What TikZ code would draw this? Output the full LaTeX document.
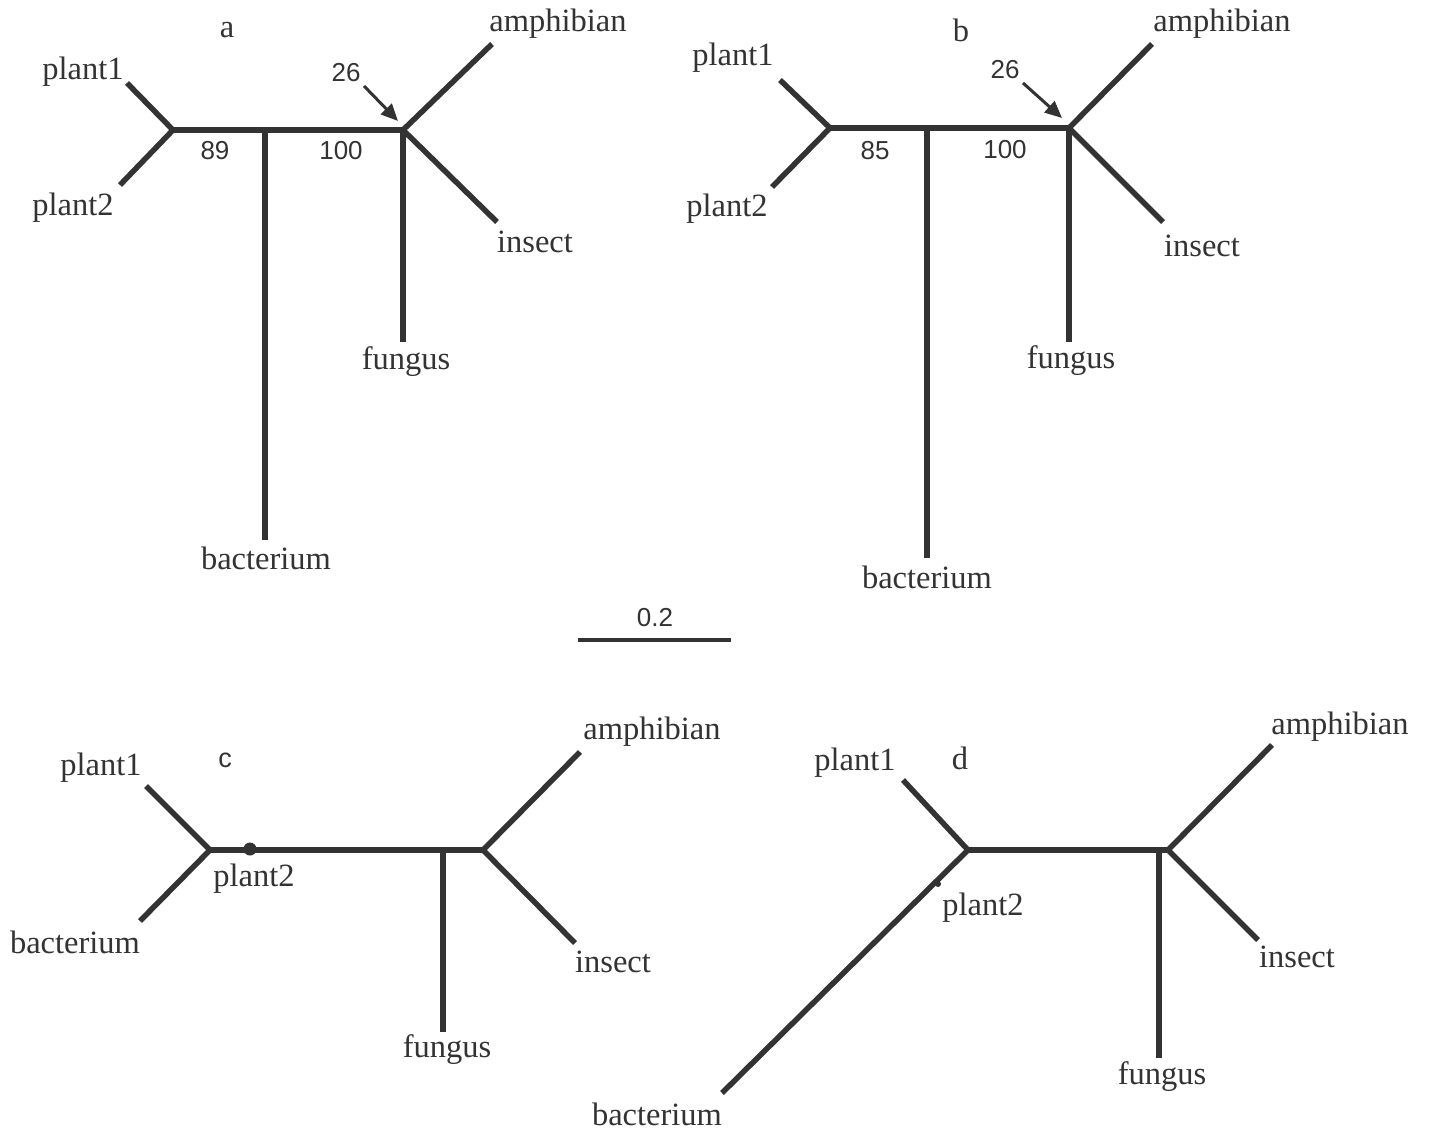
\documentclass[tikz,border=0pt]{standalone}
\usepackage{fontspec}
\setmainfont{Liberation Serif}
\newfontfamily\numfont{Liberation Sans}
\usetikzlibrary{arrows.meta}
\definecolor{ink}{HTML}{333333}
\tikzset{
  branch/.style={line width=5.5pt, draw=ink},
  lab/.style={inner sep=0pt, text=ink, font=\fontsize{32.5}{35}\selectfont},
  num/.style={inner sep=0pt, text=ink, font=\numfont\fontsize{26}{29}\selectfont},
  pointer/.style={line width=3pt, draw=ink, -{Triangle[length=17pt,width=15pt]}}
}
\begin{document}
\begin{tikzpicture}[x=1pt,y=-1pt]
\useasboundingbox[fill=white] (0,0) rectangle (1429,1134);
% ---------- panel a
\node[lab] (la) at (227,30) {a};
\coordinate (aL) at (173,130);
\coordinate (aM) at (265,130);
\coordinate (aR) at (403,130);
\coordinate (aP1) at (127,83);
\coordinate (aP2) at (120,185);
\coordinate (aBa) at (265,540);
\coordinate (aAm) at (492,44);
\coordinate (aIn) at (497,222);
\coordinate (aFu) at (403,342);
\draw[branch] (aP1) -- (aL) -- (aP2);
\draw[branch] (aL) -- (aR);
\draw[branch] (aM) -- (aBa);
\draw[branch] (aAm) -- (aR) -- (aIn);
\draw[branch] (aR) -- (aFu);
\node[lab] (aP1t) at (83,72) {plant1};
\node[lab] (aP2t) at (73,208) {plant2};
\node[lab] (aBat) at (266,558) {bacterium};
\node[lab] (aAmt) at (558,24) {amphibian};
\node[lab] (aInt) at (535,242) {insect};
\node[lab] (aFut) at (406,362) {fungus};
\node[num] (a89) at (215,151) {89};
\node[num] (a100) at (341,151) {100};
\node[num] (a26) at (346,73) {26};
\coordinate (aArS) at (364,86);
\coordinate (aArE) at (398,121);
\draw[pointer] (aArS) -- (aArE);
% ---------- panel b
\node[lab] (lb) at (961,30) {b};
\coordinate (bL) at (830,128);
\coordinate (bM) at (927,128);
\coordinate (bR) at (1069,128);
\coordinate (bP1) at (780,80);
\coordinate (bP2) at (772,187);
\coordinate (bBa) at (927,558);
\coordinate (bAm) at (1152,44);
\coordinate (bIn) at (1163,222);
\coordinate (bFu) at (1069,342);
\draw[branch] (bP1) -- (bL) -- (bP2);
\draw[branch] (bL) -- (bR);
\draw[branch] (bM) -- (bBa);
\draw[branch] (bAm) -- (bR) -- (bIn);
\draw[branch] (bR) -- (bFu);
\node[lab] (bP1t) at (733,58) {plant1};
\node[lab] (bP2t) at (727,209) {plant2};
\node[lab] (bBat) at (927,577) {bacterium};
\node[lab] (bAmt) at (1222,24) {amphibian};
\node[lab] (bInt) at (1202,246) {insect};
\node[lab] (bFut) at (1071,361) {fungus};
\node[num] (b85) at (875,151) {85};
\node[num] (b100) at (1005,150) {100};
\node[num] (b26) at (1005,70) {26};
\coordinate (bArS) at (1023,83);
\coordinate (bArE) at (1062,118);
\draw[pointer] (bArS) -- (bArE);
% ---------- scale bar
\node[num] (sc) at (655,618) {0.2};
\coordinate (sL) at (578,640);
\coordinate (sR) at (731,640);
\draw[line width=4pt, draw=ink] (sL) -- (sR);
% ---------- panel c
\node[num, font=\numfont\fontsize{27}{30}\selectfont] (lc) at (225,760) {c};
\coordinate (cL) at (210,850);
\coordinate (cM) at (443,850);
\coordinate (cR) at (483,850);
\coordinate (cP1) at (146,786);
\coordinate (cBa) at (140,921);
\coordinate (cAm) at (580,752);
\coordinate (cIn) at (575,943);
\coordinate (cFu) at (443,1032);
\coordinate (cDot) at (250,849);
\draw[branch] (cP1) -- (cL) -- (cBa);
\draw[branch] (cL) -- (cR);
\draw[branch] (cM) -- (cFu);
\draw[branch] (cAm) -- (cR) -- (cIn);
\fill[ink] (cDot) circle (6.5pt);
\node[lab] (cP1t) at (101,768) {plant1};
\node[lab] (cBat) at (75,942) {bacterium};
\node[lab] (cP2t) at (254,879) {plant2};
\node[lab] (cAmt) at (652,732) {amphibian};
\node[lab] (cInt) at (613,962) {insect};
\node[lab] (cFut) at (447,1050) {fungus};
% ---------- panel d
\node[lab] (ld) at (960,758) {d};
\coordinate (dL) at (968,850);
\coordinate (dM) at (1159,850);
\coordinate (dR) at (1168,850);
\coordinate (dP1) at (903,780);
\coordinate (dBa) at (722,1093);
\coordinate (dAm) at (1272,745);
\coordinate (dIn) at (1258,940);
\coordinate (dFu) at (1159,1058);
\coordinate (dDot) at (938,884);
\draw[branch] (dP1) -- (dL) -- (dBa);
\draw[branch] (dL) -- (dR);
\draw[branch] (dM) -- (dFu);
\draw[branch] (dAm) -- (dR) -- (dIn);
\fill[ink] (dDot) circle (3pt);
\node[lab] (dP1t) at (855,763) {plant1};
\node[lab] (dP2t) at (983,908) {plant2};
\node[lab] (dBat) at (657,1114) {bacterium};
\node[lab] (dAmt) at (1340,727) {amphibian};
\node[lab] (dInt) at (1297,957) {insect};
\node[lab] (dFut) at (1162,1077) {fungus};
\end{tikzpicture}
\end{document}
